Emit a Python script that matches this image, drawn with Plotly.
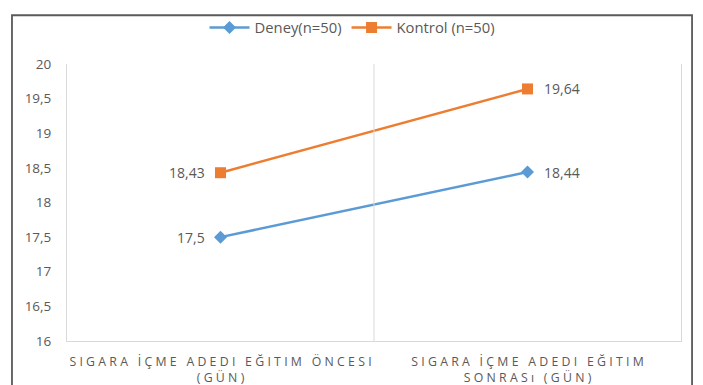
import plotly.graph_objects as go

# Category labels and group means
categories = ["SIGARA İÇME ADEDI EĞITIM ÖNCESI<br>(GÜN)",
              "SIGARA İÇME ADEDI EĞITIM<br>SONRASı (GÜN)"]
deney = [17.5, 18.44]
kontrol = [18.43, 19.64]
deney_labels = ["17,5", "18,44"]
kontrol_labels = ["18,43", "19,64"]
y_ticks = [16, 16.5, 17, 17.5, 18, 18.5, 19, 19.5, 20]

BLUE = "#5B9BD5"
ORANGE = "#ED7D31"
TEXT = "#595959"
GRID = "#D9D9D9"
FONT = "Open Sans"


def spaced(s):
    # widen letter spacing with thin spaces between characters
    out = []
    for line in s.split("<br>"):
        out.append("\u2009\u200a".join(list(line)))
    return "<br>".join(out)


x_pos = list(range(len(categories)))

fig = go.Figure()
fig.add_trace(go.Scatter(
    x=x_pos, y=deney, name="Deney(n=50)", mode="lines+markers",
    line=dict(color=BLUE, width=2.5),
    marker=dict(symbol="diamond", size=10, color=BLUE),
))
fig.add_trace(go.Scatter(
    x=x_pos, y=kontrol, name="Kontrol (n=50)", mode="lines+markers",
    line=dict(color=ORANGE, width=2.5),
    marker=dict(symbol="square", size=11, color=ORANGE),
))

# value labels: left point labelled on its left, right point on its right
for vals, labels in ((deney, deney_labels), (kontrol, kontrol_labels)):
    for i, (v, lab) in enumerate(zip(vals, labels)):
        left = i == 0
        fig.add_annotation(
            x=x_pos[i], y=v, text=lab, showarrow=False,
            xanchor="right" if left else "left", yanchor="middle",
            xshift=-14 if left else 14,
            font=dict(size=14, color=TEXT, family=FONT),
        )

# category separator
fig.add_shape(type="line", xref="x", yref="paper", x0=0.5, x1=0.5, y0=0, y1=1,
              line=dict(color=GRID, width=1))
# outer chart frame
fig.add_shape(type="rect", xref="paper", yref="paper",
              x0=-0.0896, x1=1.018, y0=-0.25, y1=1.176,
              line=dict(color="#5a5a5a", width=1.8), fillcolor="rgba(0,0,0,0)")

fig.update_layout(
    width=703, height=385,
    margin=dict(l=67, r=22, t=57, b=44),
    paper_bgcolor="white", plot_bgcolor="white",
    separators=", ",
    font=dict(family=FONT, color=TEXT, size=13),
    showlegend=True,
    legend=dict(orientation="h", x=0.465, xanchor="center", y=1.13, yanchor="middle",
                font=dict(size=14.8, color=TEXT, family=FONT), itemwidth=40,
                bgcolor="rgba(0,0,0,0)"),
    xaxis=dict(range=[-0.5, 1.5], tickmode="array", tickvals=x_pos,
               ticktext=[spaced(c) for c in categories],
               showgrid=False, zeroline=False, showline=True, linecolor=GRID,
               linewidth=1, ticks="", ticklabelstandoff=9, automargin=False,
               tickfont=dict(size=12.3, color=TEXT, family=FONT)),
    yaxis=dict(range=[16, 20], tickmode="array", tickvals=y_ticks,
               showgrid=False, zeroline=False, showline=True, mirror=True,
               linecolor=GRID, linewidth=1, ticks="", ticklabelstandoff=12,
               automargin=False,
               tickfont=dict(size=13.5, color=TEXT, family=FONT)),
)

fig.write_html("out.html")
